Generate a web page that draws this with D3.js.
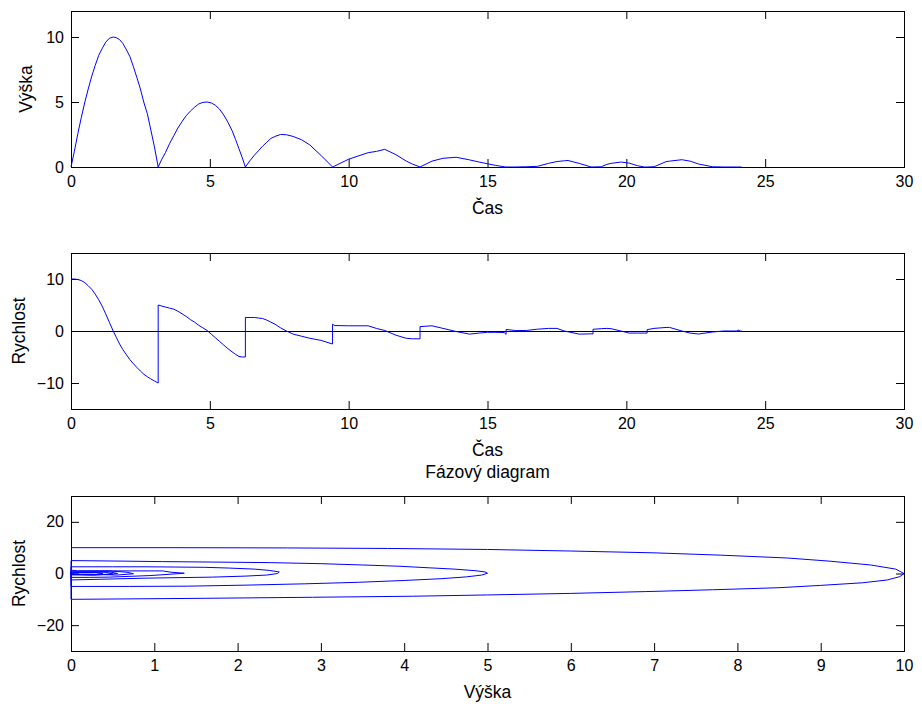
<!DOCTYPE html>
<html>
<head>
<meta charset="utf-8">
<script src="https://cdn.jsdelivr.net/npm/d3@7"></script>
<style>
  body { margin: 0; background: #fff; }
  text { font-family: "Liberation Sans", Arial, sans-serif; }
</style>
</head>
<body>
<svg id="svg" width="922" height="706"></svg>
<script>
// time samples (s); a repeated time marks a bounce where the velocity jumps
const cas = [
  0, 0.12, 0.25, 0.37, 0.5, 0.62, 0.75, 0.87, 1.0, 1.12, 1.25, 1.38, 1.52, 1.63, 1.75, 1.87,
  2.0, 2.12, 2.25, 2.37, 2.5, 2.62, 2.75, 2.87, 3.0, 3.14,
  3.14, 3.27, 3.4, 3.55, 3.7, 3.85, 4.0, 4.15, 4.3, 4.45, 4.6, 4.75, 4.9, 5.05, 5.2, 5.35,
  5.5, 5.65, 5.8, 5.93, 6.05, 6.17, 6.28,
  6.28, 6.45, 6.6, 6.75, 6.9, 7.05, 7.2, 7.38, 7.55, 7.76, 8.0, 8.3, 8.6, 9.0, 9.42,
  9.42, 9.5, 10.0, 10.7, 11.0, 11.3, 11.7, 12.07, 12.3, 12.57,
  12.57, 13.0, 13.4, 13.87, 14.35, 14.7, 15.0, 15.3, 15.6, 15.67,
  15.67, 16.0, 16.4, 16.8, 17.2, 17.5, 17.77, 17.9, 18.3, 18.7, 18.8,
  18.8, 19.1, 19.3, 19.45, 19.8, 20.1, 20.4, 20.65, 20.75,
  20.75, 21.0, 21.43, 21.55, 22.0, 22.3, 22.6, 23.1, 23.5, 24.0, 24.02, 24.1, 24.15
];
const vyska = [
  0, 1.2, 2.6, 3.8, 5.0, 6.0, 7.0, 7.8, 8.6, 9.1, 9.6, 9.9, 10.0, 9.95, 9.8, 9.5,
  9.0, 8.5, 7.7, 6.9, 6.0, 5.0, 4.1, 2.9, 1.6, 0,
  0, 0.6, 1.1, 1.8, 2.4, 3.0, 3.5, 3.95, 4.3, 4.6, 4.85, 4.97, 5.0, 4.93, 4.75, 4.45,
  4.0, 3.45, 2.8, 2.1, 1.4, 0.7, 0,
  0, 0.5, 0.9, 1.25, 1.6, 1.9, 2.2, 2.38, 2.5, 2.48, 2.35, 2.1, 1.7, 0.9, 0,
  0, 0.08, 0.6, 1.1, 1.2, 1.36, 0.95, 0.46, 0.22, 0,
  0, 0.45, 0.67, 0.75, 0.55, 0.38, 0.25, 0.12, 0.02, 0,
  0, 0, 0.02, 0.05, 0.28, 0.42, 0.48, 0.5, 0.28, 0.02, 0,
  0, 0.02, 0.2, 0.28, 0.38, 0.3, 0.1, 0, 0,
  0, 0.02, 0.41, 0.45, 0.56, 0.45, 0.23, 0.02, 0, 0, 0, 0, 0
];
const rychlost = [
  10, 10, 9.9, 9.7, 9.3, 8.7, 8.0, 7.1, 6.0, 4.8, 3.3, 1.7, 0, -1.2, -2.5, -3.6,
  -4.6, -5.5, -6.3, -7.0, -7.7, -8.3, -8.8, -9.2, -9.6, -10,
  5, 4.8, 4.6, 4.4, 4.2, 3.8, 3.3, 2.8, 2.2, 1.7, 1.1, 0.6, 0.1, -0.6, -1.3, -2.0,
  -2.7, -3.4, -4.0, -4.5, -4.9, -5.0, -5.0,
  2.6, 2.6, 2.6, 2.5, 2.4, 2.1, 1.7, 1.2, 0.6, 0, -0.6, -1.0, -1.4, -1.8, -2.5,
  1.3, 1.05, 1.0, 1.0, 0.5, 0.1, -0.8, -1.4, -1.5, -1.5,
  0.85, 1.0, 0.5, -0.1, -0.6, -0.4, -0.25, -0.25, -0.3, -0.65,
  0.3, 0.1, 0.1, 0.35, 0.5, 0.5, 0, -0.15, -0.6, -0.55, -0.55,
  0.33, 0.45, 0.5, 0.45, 0, -0.4, -0.4, -0.4, -0.4,
  0.26, 0.5, 0.68, 0.7, 0, -0.4, -0.58, -0.2, 0, 0, 0.2, 0, 0
];

const casTicks = [0, 5, 10, 15, 20, 25, 30];
const vyskaTicks = [0, 5, 10];
const rychlostTicks = [-10, 0, 10];
const fazeXTicks = [0, 1, 2, 3, 4, 5, 6, 7, 8, 9, 10];
const fazeYTicks = [-20, 0, 20];

const svg = d3.select("#svg");
const left = 71, right = 904, tick = 8, fs = 16, lfs = 17.5;

const panels = [
  { top: 11, bottom: 167, xd: [0, 30], yd: [0, 12], xt: casTicks, yt: vyskaTicks,
    xs: cas, ys: vyska, xlab: "Čas", ylab: "Výška", ylabX: 26 },
  { top: 253, bottom: 409, xd: [0, 30], yd: [-15, 15], xt: casTicks, yt: rychlostTicks,
    xs: cas, ys: rychlost, xlab: "Čas", ylab: "Rychlost", ylabX: 19, zero: true },
  { top: 496, bottom: 651, xd: [0, 10], yd: [-30, 30], xt: fazeXTicks, yt: fazeYTicks,
    xs: vyska, ys: rychlost, xlab: "Výška", ylab: "Rychlost", ylabX: 19, title: "Fázový diagram" }
];

panels.forEach(function(p) {
  let x = d3.scaleLinear().domain(p.xd).range([left, right]);
  let y = d3.scaleLinear().domain(p.yd).range([p.bottom, p.top]);
  let g = svg.append("g");

  // inward ticks on all four sides
  g.append("g").attr("transform", "translate(0," + p.bottom + ")")
    .call(d3.axisBottom(x).tickValues(p.xt).tickSizeInner(-tick).tickSizeOuter(0).tickPadding(9));
  g.append("g").attr("transform", "translate(0," + p.top + ")")
    .call(d3.axisTop(x).tickValues(p.xt).tickSizeInner(-tick).tickSizeOuter(0).tickFormat(""));
  g.append("g").attr("transform", "translate(" + left + ",0)")
    .call(d3.axisLeft(y).tickValues(p.yt).tickSizeInner(-tick).tickSizeOuter(0).tickPadding(7));
  g.append("g").attr("transform", "translate(" + right + ",0)")
    .call(d3.axisRight(y).tickValues(p.yt).tickSizeInner(-tick).tickSizeOuter(0).tickFormat(""));

  g.selectAll(".domain").remove();
  g.selectAll(".tick line").attr("stroke", "#000");
  g.selectAll(".tick text").attr("fill", "#000")
    .style("font-family", '"Liberation Sans", Arial, sans-serif').style("font-size", fs + "px");

  g.append("rect")
    .attr("x", left + 0.5).attr("y", p.top + 0.5)
    .attr("width", right - left).attr("height", p.bottom - p.top)
    .attr("fill", "none").attr("stroke", "#000");

  if (p.zero) {
    g.append("line")
      .attr("x1", x(p.xd[0])).attr("x2", x(p.xd[1]))
      .attr("y1", y(0) + 0.5).attr("y2", y(0) + 0.5)
      .attr("stroke", "#000");
  }

  let line = d3.line()
    .x(function(d, i) { return x(p.xs[i]); })
    .y(function(d, i) { return y(p.ys[i]); });

  g.append("path")
    .datum(p.xs)
    .attr("d", line)
    .attr("fill", "none")
    .attr("stroke", "#0000ff")
    .attr("stroke-width", 1);

  g.append("text")
    .attr("x", (left + right) / 2).attr("y", p.bottom + 41)
    .attr("text-anchor", "middle").attr("dy", "0.35em")
    .style("font-size", lfs + "px")
    .text(p.xlab);

  g.append("text")
    .attr("transform", "translate(" + p.ylabX + "," + (p.top + p.bottom) / 2 + ") rotate(-90)")
    .attr("text-anchor", "middle").attr("dy", "0.35em")
    .style("font-size", lfs + "px")
    .text(p.ylab);

  if (p.title) {
    g.append("text")
      .attr("x", (left + right) / 2).attr("y", p.top - 24)
      .attr("text-anchor", "middle").attr("dy", "0.35em")
      .style("font-size", lfs + "px")
      .text(p.title);
  }
});
</script>
</body>
</html>
